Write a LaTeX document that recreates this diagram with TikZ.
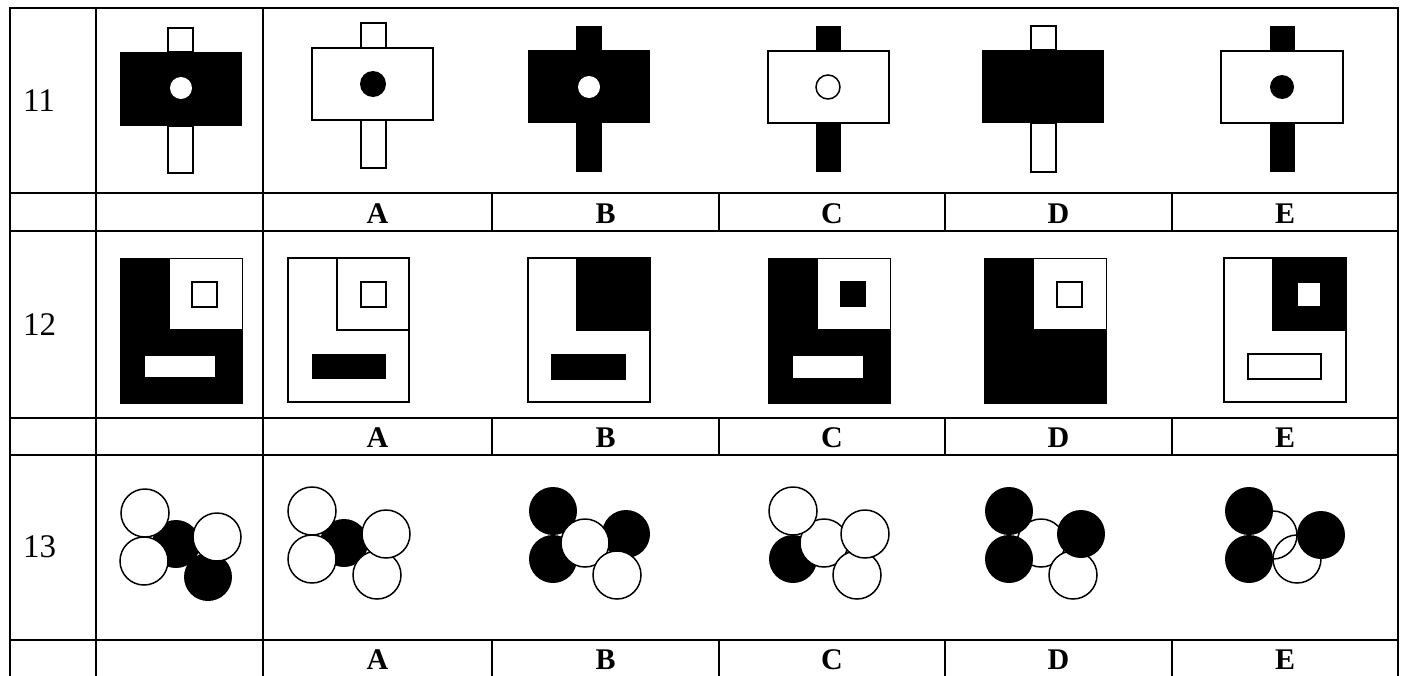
\documentclass[tikz,border=0pt]{standalone}
\usepackage{fontspec}
\setmainfont{Liberation Serif}
\usepackage{tikz}
\tikzset{
  %% ---- table ----
  rule/.style   = {line width=2.3pt, line cap=rect},
  rownum/.style = {anchor=west, inner sep=0pt,
                   font=\fontsize{33}{36}\selectfont},
  optlbl/.style = {inner sep=0pt, font=\fontsize{30}{34}\selectfont\bfseries},
  %% ---- figure parts ----
  blk/.style    = {fill=black},
  wht/.style    = {fill=white, draw=black, line width=1.5pt},
  edge/.style   = {draw=black, line width=1pt},
}

\begin{document}
\begin{tikzpicture}[x=1pt, y=-1pt]
\useasboundingbox[fill=white] (0,0) rectangle (1408,675);

%% ── Table rules ───────────────────────────────────────────────────────────
\foreach \y in {8,193,231,418,455,640}
  \draw[rule] (10,\y) -- (1398,\y);
\foreach \x in {10,96,263,1398}
  \draw[rule] (\x,8) -- (\x,680);
\foreach \x in {492,719,945,1172}
  \foreach \a/\b in {193/231,418/455,640/680}
    \draw[rule] (\x,\a) -- (\x,\b);

%% ── Row numbers and answer letters ────────────────────────────────────────
\node[rownum] (num11) at (23,101)   {11};
\node[rownum] (num12) at (23,324.5) {12};
\node[rownum] (num13) at (23,547)   {13};

\foreach \r/\y in {a/214,b/438,c/660}
  \foreach \lab/\x in {A/377.5,B/605.5,C/832,D/1058.5,E/1285}
    \node[optlbl] (lab\r\lab) at (\x,\y) {\lab};

%% ── Row 11: cross shapes ──────────────────────────────────────────────────
% question
\draw[wht] (168,28) rectangle (193,52);
\draw[wht] (168,126) rectangle (193,173);
\fill[blk] (120,52) rectangle (242,126);
\fill[white] (181,88) circle[radius=11];
% A
\draw[wht] (361,23) rectangle (386,48);
\draw[wht] (361,120) rectangle (386,168);
\draw[wht] (312,48) rectangle (433,120);
\fill[blk] (373,84) circle[radius=13];
% B
\fill[blk] (576,26) rectangle (602,172);
\fill[blk] (528,50) rectangle (650,123);
\fill[white] (589,87) circle[radius=11];
% C
\fill[blk] (816,26) rectangle (841,172);
\draw[wht] (768,51) rectangle (889,123);
\draw[wht] (828,87) circle[radius=12];
% D
\draw[wht] (1031,26) rectangle (1056,50);
\draw[wht] (1031,123) rectangle (1056,172);
\fill[blk] (982,50) rectangle (1104,123);
% E
\fill[blk] (1270,26) rectangle (1295,172);
\draw[wht] (1221,51) rectangle (1343,123);
\fill[blk] (1282,87) circle[radius=12];

%% ── Row 12: squares with an L ─────────────────────────────────────────────
% question
\fill[blk] (120,258) rectangle (242,403);
\fill[white] (170,258) rectangle (242,329);
\draw[edge] (120,258) rectangle (242,403);
\draw[wht] (192,282) rectangle (217,307);
\fill[white] (145,356) rectangle (215,377);
% A
\draw[wht] (288,258) rectangle (409,402);
\draw[wht] (337,258) rectangle (409,330);
\draw[wht] (361,282) rectangle (386,307);
\fill[blk] (312,354) rectangle (386,379);
% B
\draw[wht] (528,258) rectangle (650,402);
\fill[blk] (576,258) rectangle (650,331);
\fill[blk] (551,354) rectangle (626,380);
% C
\fill[blk] (768,258) rectangle (890,403);
\fill[white] (818,258) rectangle (890,329);
\draw[edge] (768,258) rectangle (890,403);
\fill[blk] (840,281) rectangle (866,307);
\fill[white] (793,356) rectangle (863,378);
% D
\fill[blk] (984,258) rectangle (1106,403);
\fill[white] (1034,258) rectangle (1106,329);
\draw[edge] (984,258) rectangle (1106,403);
\draw[wht] (1057,282) rectangle (1082,307);
% E
\draw[wht] (1224,258) rectangle (1346,402);
\fill[blk] (1272,258) rectangle (1346,331);
\fill[white] (1298,283) rectangle (1320,306);
\draw[wht] (1248,354) rectangle (1321,379);

%% ── Row 13: five circles ──────────────────────────────────────────────────
% question
\fill[blk] (176,544) circle[radius=24];
\fill[blk] (208,577) circle[radius=24];
\draw[wht] (145,513) circle[radius=24];
\draw[wht] (144,561) circle[radius=24];
\draw[wht] (217,537) circle[radius=24];
% A
\fill[blk] (344,543) circle[radius=24];
\draw[wht] (312,511) circle[radius=24];
\draw[wht] (312,559) circle[radius=24];
\draw[wht] (377,575) circle[radius=24];
\draw[wht] (386,534) circle[radius=24];
% B
\fill[blk] (553,511) circle[radius=24];
\fill[blk] (553,559) circle[radius=24];
\fill[blk] (626,534) circle[radius=24];
\draw[wht] (585,543) circle[radius=24];
\draw[wht] (617,575) circle[radius=24];
% C
\fill[blk] (793,559) circle[radius=24];
\draw[wht] (824,543) circle[radius=24];
\draw[wht] (793,511) circle[radius=24];
\draw[wht] (857,575) circle[radius=24];
\draw[wht] (865,534) circle[radius=24];
% D
\draw[wht] (1041,543) circle[radius=24];
\draw[wht] (1073,575) circle[radius=24];
\fill[blk] (1009,511) circle[radius=24];
\fill[blk] (1009,559) circle[radius=24];
\fill[blk] (1081,534) circle[radius=24];
% E
\draw[wht] (1273,535) circle[radius=24];
\draw[black, line width=1.5pt] (1297,559) circle[radius=24];
\fill[blk] (1249,511) circle[radius=24];
\fill[blk] (1249,559) circle[radius=24];
\fill[blk] (1321,535) circle[radius=24];

\end{tikzpicture}
\end{document}
